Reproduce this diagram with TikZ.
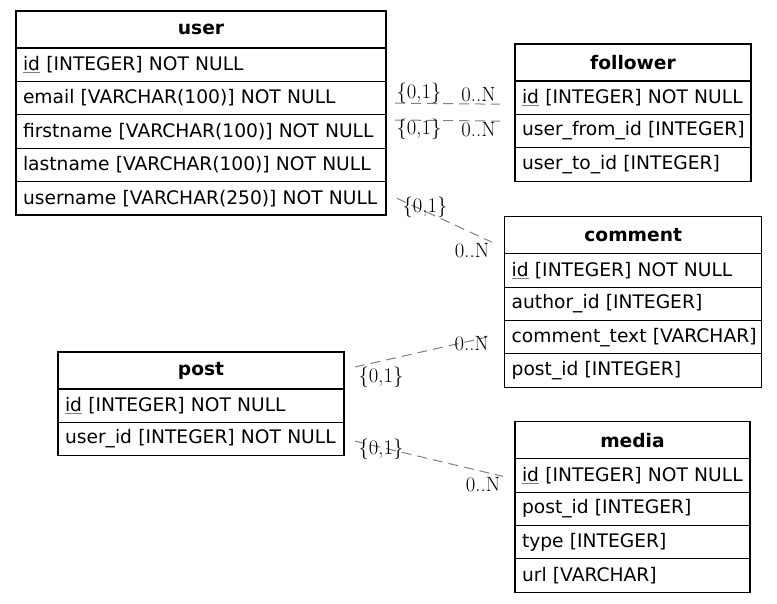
\documentclass[tikz,border=0pt]{standalone}
\usepackage{fontspec}
\usetikzlibrary{positioning}
\newfontfamily\erfont{DejaVu Sans}
\newcommand\pkey[1]{\textcolor{gray}{\underline{\textcolor{black}{#1}}}}
\newcommand\tabfont{\erfont\fontsize{14}{16.8}\selectfont}
\begin{document}
\begin{tikzpicture}[x=0.75pt,y=-0.75pt,
  headbox/.style={draw,line width=0.8pt,outer sep=0pt,inner sep=0pt,minimum height=27.75pt,font=\tabfont\bfseries},
  rowbox/.style={draw,line width=0.8pt,outer sep=0pt,inner xsep=5.25pt,inner ysep=0pt,minimum height=25.05pt,text width=#1,align=left,font=\tabfont,execute at begin node={\leavevmode\hbox\bgroup},execute at end node={\egroup}},
  rel/.style={draw=gray,line width=0.75pt,dash pattern=on 7.5pt off 4.5pt},
  card/.style={inner sep=0pt,font=\fontsize{15.5}{17}\selectfont}]
\useasboundingbox (0,0) rectangle (777,603);
\node[headbox,minimum width=277.5pt,anchor=north west] (user) at (16,11) {user};
\node[rowbox=267pt,below=0pt of user] (user-id) {\pkey{id} [INTEGER] NOT NULL};
\node[rowbox=267pt,below=0pt of user-id] (user-email) {email [VARCHAR(100)] NOT NULL};
\node[rowbox=267pt,below=0pt of user-email] (user-firstname) {firstname [VARCHAR(100)] NOT NULL};
\node[rowbox=267pt,below=0pt of user-firstname] (user-lastname) {lastname [VARCHAR(100)] NOT NULL};
\node[rowbox=267pt,below=0pt of user-lastname] (user-username) {username [VARCHAR(250)] NOT NULL};
\node[headbox,minimum width=177pt,anchor=north west] (follower) at (515,44) {follower};
\node[rowbox=166.5pt,below=0pt of follower] (follower-id) {\pkey{id} [INTEGER] NOT NULL};
\node[rowbox=166.5pt,below=0pt of follower-id] (follower-from) {user\_from\_id [INTEGER]};
\node[rowbox=166.5pt,below=0pt of follower-from] (follower-to) {user\_to\_id [INTEGER]};
\node[headbox,minimum width=192.75pt,anchor=north west] (comment) at (504.7,216.7) {comment};
\node[rowbox=182.25pt,below=0pt of comment] (comment-id) {\pkey{id} [INTEGER] NOT NULL};
\node[rowbox=182.25pt,below=0pt of comment-id] (comment-author) {author\_id [INTEGER]};
\node[rowbox=182.25pt,below=0pt of comment-author] (comment-text) {comment\_text [VARCHAR]};
\node[rowbox=182.25pt,below=0pt of comment-text] (comment-post) {post\_id [INTEGER]};
\node[headbox,minimum width=214.5pt,anchor=north west] (post) at (58,352) {post};
\node[rowbox=204pt,below=0pt of post] (post-id) {\pkey{id} [INTEGER] NOT NULL};
\node[rowbox=204pt,below=0pt of post-id] (post-user) {user\_id [INTEGER] NOT NULL};
\node[headbox,minimum width=176.25pt,anchor=north west] (media) at (515,421.7) {media};
\node[rowbox=165.75pt,below=0pt of media] (media-id) {\pkey{id} [INTEGER] NOT NULL};
\node[rowbox=165.75pt,below=0pt of media-id] (media-post) {post\_id [INTEGER]};
\node[rowbox=165.75pt,below=0pt of media-post] (media-type) {type [INTEGER]};
\node[rowbox=165.75pt,below=0pt of media-type] (media-url) {url [VARCHAR]};
\draw[rel] ([shift={(9,5)}]user-email.east) coordinate (r1a) -- ([shift={(-15,6.5)}]follower-id.west) coordinate (r1b);
\draw[rel] ([shift={(9,-11.5)}]user-firstname.east) coordinate (r2a) -- ([shift={(-15,-10)}]follower-from.west) coordinate (r2b);
\draw[rel] ([shift={(11,0)}]user-username.east) coordinate (r3a) -- ([shift={(-12.7,7)}]comment.west) coordinate (r3b);
\draw[rel] ([shift={(11,-3.5)}]post.east) coordinate (r4a) -- ([shift={(-18,0)}]comment-text.west) coordinate (r4b);
\draw[rel] ([shift={(11,2)}]post-user.east) coordinate (r5a) -- ([shift={(-12,1)}]media-id.west) coordinate (r5b);
\node[card] (r1-tail) at ([shift={(24,-10)}]r1a) {\{0,1\}};
\node[card] (r1-head) at ([shift={(-21.5,-10)}]r1b) {0..N};
\node[card] (r2-tail) at ([shift={(24,9)}]r2a) {\{0,1\}};
\node[card] (r2-head) at ([shift={(-21.5,9)}]r2b) {0..N};
\node[card] (r3-tail) at ([shift={(28,9)}]r3a) {\{0,1\}};
\node[card] (r3-head) at ([shift={(-20,8)}]r3b) {0..N};
\node[card] (r4-tail) at ([shift={(26,10)}]r4a) {\{0,1\}};
\node[card] (r4-head) at ([shift={(-15,6)}]r4b) {0..N};
\node[card] (r5-tail) at ([shift={(26,8)}]r5a) {\{0,1\}};
\node[card] (r5-head) at ([shift={(-20,8)}]r5b) {0..N};
\end{tikzpicture}
\end{document}
